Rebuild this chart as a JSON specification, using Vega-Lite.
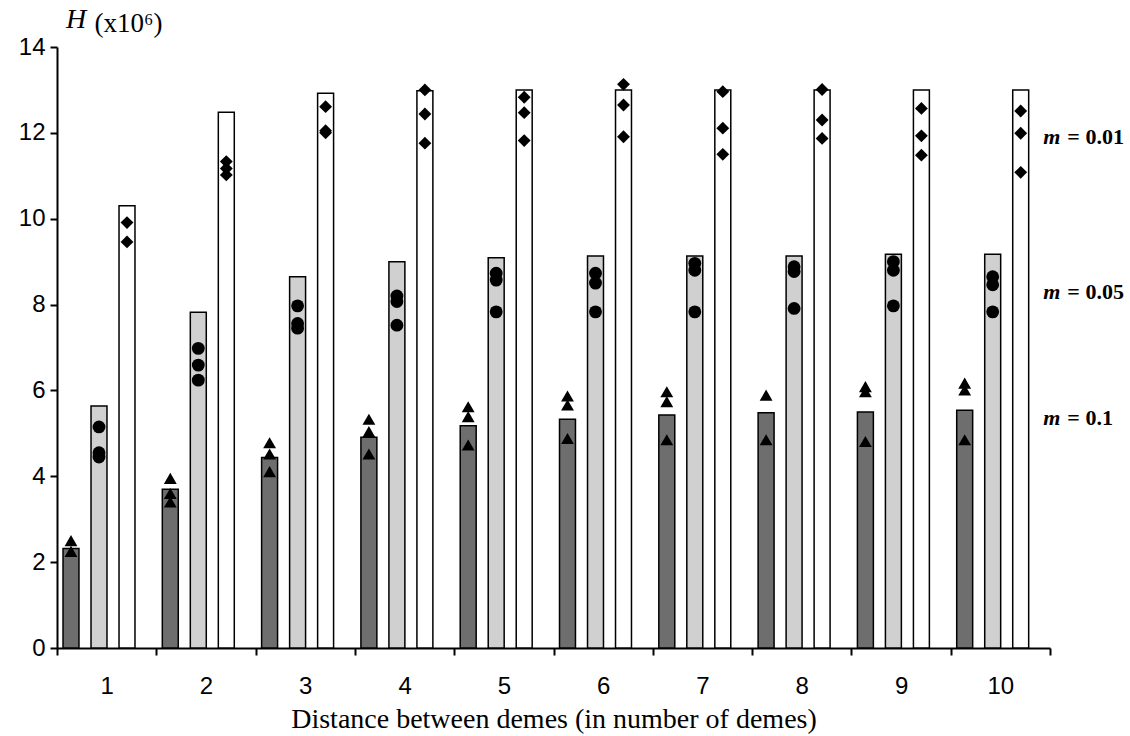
{
  "$schema": "https://vega.github.io/schema/vega-lite/v6.json",
  "width": 993,
  "height": 601,
  "autosize": {"type": "none"},
  "padding": {"left": 57, "top": 47, "right": 80, "bottom": 88},
  "background": "white",
  "config": {"view": {"stroke": null}},
  "title": {
    "text": "H",
    "anchor": "start",
    "frame": "group",
    "font": "Liberation Serif",
    "fontStyle": "italic",
    "fontWeight": "normal",
    "fontSize": 28,
    "color": "black",
    "baseline": "alphabetic",
    "dx": 9,
    "offset": -47
  },
  "datasets": {
    "bars": [
      {"d": 1, "m": "0.1", "H": 2.32}, {"d": 1, "m": "0.05", "H": 5.64}, {"d": 1, "m": "0.01", "H": 10.30},
      {"d": 2, "m": "0.1", "H": 3.70}, {"d": 2, "m": "0.05", "H": 7.82}, {"d": 2, "m": "0.01", "H": 12.48},
      {"d": 3, "m": "0.1", "H": 4.44}, {"d": 3, "m": "0.05", "H": 8.65}, {"d": 3, "m": "0.01", "H": 12.92},
      {"d": 4, "m": "0.1", "H": 4.91}, {"d": 4, "m": "0.05", "H": 9.00}, {"d": 4, "m": "0.01", "H": 12.98},
      {"d": 5, "m": "0.1", "H": 5.18}, {"d": 5, "m": "0.05", "H": 9.09}, {"d": 5, "m": "0.01", "H": 13.0},
      {"d": 6, "m": "0.1", "H": 5.33}, {"d": 6, "m": "0.05", "H": 9.13}, {"d": 6, "m": "0.01", "H": 13.0},
      {"d": 7, "m": "0.1", "H": 5.43}, {"d": 7, "m": "0.05", "H": 9.13}, {"d": 7, "m": "0.01", "H": 13.0},
      {"d": 8, "m": "0.1", "H": 5.48}, {"d": 8, "m": "0.05", "H": 9.13}, {"d": 8, "m": "0.01", "H": 13.0},
      {"d": 9, "m": "0.1", "H": 5.50}, {"d": 9, "m": "0.05", "H": 9.17}, {"d": 9, "m": "0.01", "H": 13.0},
      {"d": 10, "m": "0.1", "H": 5.54}, {"d": 10, "m": "0.05", "H": 9.17}, {"d": 10, "m": "0.01", "H": 13.0}
    ],
    "points": [
      {"d": 1, "m": "0.1", "H": 2.5}, {"d": 1, "m": "0.1", "H": 2.25},
      {"d": 1, "m": "0.05", "H": 5.15}, {"d": 1, "m": "0.05", "H": 4.55}, {"d": 1, "m": "0.05", "H": 4.45},
      {"d": 1, "m": "0.01", "H": 9.91}, {"d": 1, "m": "0.01", "H": 9.46},
      {"d": 2, "m": "0.1", "H": 3.95}, {"d": 2, "m": "0.1", "H": 3.6}, {"d": 2, "m": "0.1", "H": 3.4},
      {"d": 2, "m": "0.05", "H": 6.98}, {"d": 2, "m": "0.05", "H": 6.59}, {"d": 2, "m": "0.05", "H": 6.24},
      {"d": 2, "m": "0.01", "H": 11.33}, {"d": 2, "m": "0.01", "H": 11.17}, {"d": 2, "m": "0.01", "H": 11.02},
      {"d": 3, "m": "0.1", "H": 4.78}, {"d": 3, "m": "0.1", "H": 4.52}, {"d": 3, "m": "0.1", "H": 4.11},
      {"d": 3, "m": "0.05", "H": 7.97}, {"d": 3, "m": "0.05", "H": 7.56}, {"d": 3, "m": "0.05", "H": 7.45},
      {"d": 3, "m": "0.01", "H": 12.61}, {"d": 3, "m": "0.01", "H": 12.05}, {"d": 3, "m": "0.01", "H": 12.0},
      {"d": 4, "m": "0.1", "H": 5.33}, {"d": 4, "m": "0.1", "H": 5.04}, {"d": 4, "m": "0.1", "H": 4.52},
      {"d": 4, "m": "0.05", "H": 8.2}, {"d": 4, "m": "0.05", "H": 8.07}, {"d": 4, "m": "0.05", "H": 7.52},
      {"d": 4, "m": "0.01", "H": 13.0}, {"d": 4, "m": "0.01", "H": 12.44}, {"d": 4, "m": "0.01", "H": 11.76},
      {"d": 5, "m": "0.1", "H": 5.62}, {"d": 5, "m": "0.1", "H": 5.39}, {"d": 5, "m": "0.1", "H": 4.73},
      {"d": 5, "m": "0.05", "H": 8.73}, {"d": 5, "m": "0.05", "H": 8.57}, {"d": 5, "m": "0.05", "H": 7.83},
      {"d": 5, "m": "0.01", "H": 12.83}, {"d": 5, "m": "0.01", "H": 12.47}, {"d": 5, "m": "0.01", "H": 11.82},
      {"d": 6, "m": "0.1", "H": 5.87}, {"d": 6, "m": "0.1", "H": 5.66}, {"d": 6, "m": "0.1", "H": 4.88},
      {"d": 6, "m": "0.05", "H": 8.73}, {"d": 6, "m": "0.05", "H": 8.5}, {"d": 6, "m": "0.05", "H": 7.83},
      {"d": 6, "m": "0.01", "H": 13.13}, {"d": 6, "m": "0.01", "H": 12.65}, {"d": 6, "m": "0.01", "H": 11.91},
      {"d": 7, "m": "0.1", "H": 5.97}, {"d": 7, "m": "0.1", "H": 5.74}, {"d": 7, "m": "0.1", "H": 4.85},
      {"d": 7, "m": "0.05", "H": 8.96}, {"d": 7, "m": "0.05", "H": 8.8}, {"d": 7, "m": "0.05", "H": 7.83},
      {"d": 7, "m": "0.01", "H": 12.96}, {"d": 7, "m": "0.01", "H": 12.11}, {"d": 7, "m": "0.01", "H": 11.5},
      {"d": 8, "m": "0.1", "H": 5.89}, {"d": 8, "m": "0.1", "H": 4.85},
      {"d": 8, "m": "0.05", "H": 8.88}, {"d": 8, "m": "0.05", "H": 8.77}, {"d": 8, "m": "0.05", "H": 7.91},
      {"d": 8, "m": "0.01", "H": 13.01}, {"d": 8, "m": "0.01", "H": 12.3}, {"d": 8, "m": "0.01", "H": 11.87},
      {"d": 9, "m": "0.1", "H": 6.09}, {"d": 9, "m": "0.1", "H": 5.97}, {"d": 9, "m": "0.1", "H": 4.81},
      {"d": 9, "m": "0.05", "H": 9.0}, {"d": 9, "m": "0.05", "H": 8.8}, {"d": 9, "m": "0.05", "H": 7.97},
      {"d": 9, "m": "0.01", "H": 12.57}, {"d": 9, "m": "0.01", "H": 11.93}, {"d": 9, "m": "0.01", "H": 11.48},
      {"d": 10, "m": "0.1", "H": 6.17}, {"d": 10, "m": "0.1", "H": 6.01}, {"d": 10, "m": "0.1", "H": 4.85},
      {"d": 10, "m": "0.05", "H": 8.65}, {"d": 10, "m": "0.05", "H": 8.46}, {"d": 10, "m": "0.05", "H": 7.83},
      {"d": 10, "m": "0.01", "H": 12.51}, {"d": 10, "m": "0.01", "H": 11.99}, {"d": 10, "m": "0.01", "H": 11.08}
    ],
    "labels": [
      {"d": 10, "H": 11.9, "rest": "= 0.01"},
      {"d": 10, "H": 8.3, "rest": "= 0.05"},
      {"d": 10, "H": 5.36, "rest": "= 0.1"}
    ]
  },
  "encoding": {
    "x": {
      "field": "d",
      "type": "ordinal",
      "scale": {"domain": [1, 2, 3, 4, 5, 6, 7, 8, 9, 10], "paddingInner": 0, "paddingOuter": 0},
      "axis": {
        "title": "Distance between  demes (in number of demes)",
        "titleFont": "Liberation Serif",
        "titleFontSize": 28,
        "titleFontWeight": "normal",
        "titleColor": "black",
        "titleBaseline": "alphabetic",
        "titleY": 79,
        "labelAngle": 0,
        "labelFont": "Liberation Sans",
        "labelFontSize": 24,
        "labelColor": "black",
        "labelPadding": 19,
        "tickBand": "extent",
        "tickSize": 7,
        "tickWidth": 2,
        "tickColor": "black",
        "domainColor": "black",
        "domainWidth": 2,
        "grid": false
      }
    },
    "y": {
      "field": "H",
      "type": "quantitative",
      "scale": {"domain": [0, 14], "nice": false},
      "axis": {
        "title": "(x10⁶)",
        "titleFont": "Liberation Serif",
        "titleFontSize": 27,
        "titleFontWeight": "normal",
        "titleColor": "black",
        "titleAngle": 0,
        "titleAlign": "left",
        "titleBaseline": "alphabetic",
        "titleX": 37,
        "titleY": -16,
        "values": [0, 2, 4, 6, 8, 10, 12, 14],
        "labelFont": "Liberation Sans",
        "labelFontSize": 24,
        "labelColor": "black",
        "labelPadding": 5,
        "tickSize": 7,
        "tickWidth": 2,
        "tickColor": "black",
        "domainColor": "black",
        "domainWidth": 2,
        "grid": false
      }
    }
  },
  "layer": [
    {
      "data": {"name": "bars"},
      "mark": {"type": "bar", "stroke": "black", "strokeWidth": 1.5},
      "encoding": {
        "xOffset": {
          "field": "m",
          "type": "nominal",
          "scale": {"domain": ["0.1", "0.05", "0.01"], "paddingInner": 0.43, "paddingOuter": 0.488, "align": 0.22}
        },
        "fill": {
          "field": "m",
          "type": "nominal",
          "scale": {"domain": ["0.1", "0.05", "0.01"], "range": ["#6e6e6e", "#d0d0d0", "#ffffff"]},
          "legend": null
        }
      }
    },
    {
      "data": {"name": "points"},
      "mark": {"type": "point", "filled": true, "color": "black", "opacity": 1, "size": 165},
      "encoding": {
        "xOffset": {
          "field": "m",
          "type": "nominal",
          "scale": {"domain": ["0.1", "0.05", "0.01"], "paddingInner": 0.43, "paddingOuter": 0.488, "align": 0.22}
        },
        "shape": {
          "field": "m",
          "type": "nominal",
          "scale": {"domain": ["0.1", "0.05", "0.01"], "range": ["triangle-up", "circle", "diamond"]},
          "legend": null
        }
      }
    },
    {
      "data": {"name": "labels"},
      "mark": {"type": "text", "text": "m", "align": "left", "baseline": "middle", "dx": 43, "font": "Liberation Serif", "fontSize": 22, "fontWeight": "bold", "fontStyle": "italic", "color": "black"}
    },
    {
      "data": {"name": "labels"},
      "mark": {"type": "text", "align": "left", "baseline": "middle", "dx": 67, "font": "Liberation Serif", "fontSize": 22, "fontWeight": "bold", "color": "black"},
      "encoding": {"text": {"field": "rest"}}
    }
  ]
}
